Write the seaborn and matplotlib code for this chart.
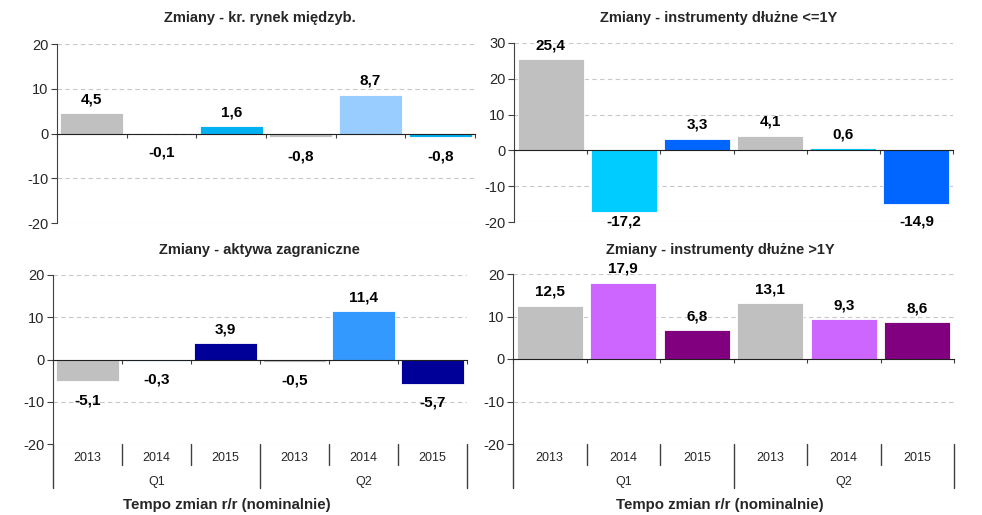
import numpy as np
import pandas as pd
import matplotlib
matplotlib.use('Agg')
import matplotlib.pyplot as plt
import matplotlib.transforms as mtransforms
import seaborn as sns

sns.set_style('white')
plt.rcParams['font.family'] = ['Liberation Sans', 'DejaVu Sans']
plt.rcParams['axes.unicode_minus'] = False

# data
quarters = ['Q1', 'Q2']
years = ['2013', '2014', '2015']
cats = ['Q1 2013', 'Q1 2014', 'Q1 2015', 'Q2 2013', 'Q2 2014', 'Q2 2015']

titles = ['Zmiany - kr. rynek międzyb.',
          'Zmiany - instrumenty dłużne <=1Y',
          'Zmiany - aktywa zagraniczne',
          'Zmiany - instrumenty dłużne >1Y']

vals_rynek = [4.5, -0.1, 1.6, -0.8, 8.7, -0.8]
vals_krotkie = [25.4, -17.2, 3.3, 4.1, 0.6, -14.9]
vals_aktywa = [-5.1, -0.3, 3.9, -0.5, 11.4, -5.7]
vals_dlugie = [12.5, 17.9, 6.8, 13.1, 9.3, 8.6]

colors_rynek = ['#C0C0C0', '#99CCFF', '#00B0F0']
colors_krotkie = ['#C0C0C0', '#00CCFF', '#0066FF']
colors_aktywa = ['#C0C0C0', '#3399FF', '#000099']
colors_dlugie = ['#C0C0C0', '#CC66FF', '#800080']

ylims = [(-20, 20), (-20, 30), (-20, 20), (-20, 20)]
xlabel = 'Tempo zmian r/r (nominalnie)'

fig = plt.figure(figsize=(9.82, 5.15), dpi=100)
W, H = 982., 515.

# axes boxes in pixels: left, top, right, bottom
boxes = [(57, 44, 475, 223), (514, 43, 953, 222),
         (53, 275, 467, 444), (513, 274, 954, 444)]
title_pos = [(260, 18), (719, 18), (259, 250), (720, 250)]

panels = [(vals_rynek, colors_rynek), (vals_krotkie, colors_krotkie),
          (vals_aktywa, colors_aktywa), (vals_dlugie, colors_dlugie)]


def fmt(v):
    return ('%.1f' % v).replace('.', ',')


for i, ((vals, cols), box, ylim) in enumerate(zip(panels, boxes, ylims)):
    l, t, r, b = box
    ax = fig.add_axes([l / W, 1 - b / H, (r - l) / W, (b - t) / H])
    df = pd.DataFrame({'cat': cats, 'val': vals})
    pal = dict(zip(cats, cols + cols))
    sns.barplot(data=df, x='cat', y='val', hue='cat', palette=pal,
                order=cats, hue_order=cats, dodge=False, legend=False,
                width=0.9, saturation=1, edgecolor='white', linewidth=0.6,
                ax=ax)
    ax.set_xlim(-0.5, 5.5)
    ax.set_ylim(*ylim)
    ax.set_yticks(np.arange(ylim[0], ylim[1] + 1, 10))
    ax.yaxis.grid(True, linestyle=(0, (4, 3)), color='#C8C8C8', lw=0.8)
    ax.set_axisbelow(True)
    ax.set_xlabel('')
    ax.set_ylabel('')
    for s in ['top', 'right']:
        ax.spines[s].set_visible(False)
    ax.spines['left'].set_color('#404040')
    ax.spines['bottom'].set_color('#202020')
    ax.spines['bottom'].set_position(('data', 0))
    ax.spines['bottom'].set_zorder(5)
    ax.set_xticks(np.arange(-0.5, 6, 1))
    ax.set_xticklabels([])
    ax.tick_params(axis='x', direction='out', length=3, width=0.8,
                   color='#404040', bottom=True)
    ax.tick_params(axis='y', direction='out', length=4, width=0.8,
                   color='#404040', left=True, labelsize=10.5, pad=2)

    # value labels
    px = (ylim[1] - ylim[0]) / float(b - t)
    for x, v in enumerate(vals):
        if v >= 0:
            y = v + 14 * px
        else:
            y = max(v - 19 * px, ylim[0])
        ax.text(x, y, fmt(v), ha='center', va='center', fontsize=11,
                fontweight='bold', color='black')

    fig.text(title_pos[i][0] / W, 1 - title_pos[i][1] / H, titles[i],
             ha='center', va='center', fontsize=10.5, fontweight='bold')

    # category table under the bottom panels
    if i >= 2:
        trans = mtransforms.blended_transform_factory(ax.transData,
                                                      ax.transAxes)
        hpx = float(b - t)
        for k, xb in enumerate(np.arange(-0.5, 6, 1)):
            depth = 44 if k % 3 == 0 else 21
            ax.plot([xb, xb], [0, -depth / hpx], transform=trans,
                    color='#404040', lw=1.0, clip_on=False)
        for x, c in enumerate(cats):
            ax.text(x, -14 / hpx, c.split()[1], transform=trans,
                    ha='center', va='center', fontsize=9)
        for q, qx in zip(quarters, [1, 4]):
            ax.text(qx, -38 / hpx, q, transform=trans,
                    ha='center', va='center', fontsize=9)

fig.text(227 / W, 1 - 505 / H, xlabel, ha='center', va='center',
         fontsize=10.8, fontweight='bold')
fig.text(720 / W, 1 - 505 / H, xlabel, ha='center', va='center',
         fontsize=10.8, fontweight='bold')

fig.savefig('out.png', dpi=100)
